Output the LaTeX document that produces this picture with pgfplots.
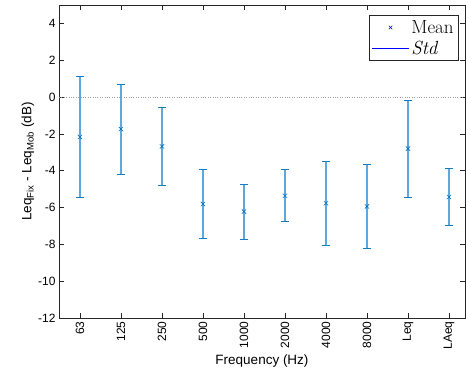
\documentclass[border=0pt]{standalone}
\usepackage{pgfplots}
\pgfplotsset{compat=1.18}
\usepackage{fontspec}
\setmainfont{Liberation Sans}
\newfontfamily\lmfont{Latin Modern Roman}
\definecolor{mblue}{rgb}{0,0.447,0.741}
\definecolor{ebar}{RGB}{95,168,222}
\definecolor{axgray}{RGB}{38,38,38}
\begin{document}
\begin{tikzpicture}
\begin{axis}[
  scale only axis,
  width=406pt, height=313pt,
  at={(0,0)}, anchor=south west,
  xmin=0.49, xmax=10.39,
  ymin=-12, ymax=5,
  xtick={1,...,10},
  xticklabels={63,125,250,500,1000,2000,4000,8000,Leq,LAeq},
  xticklabel style={rotate=90, anchor=east, font=\fontsize{12}{14}\selectfont},
  ytick={-12,-10,...,4},
  yticklabel style={font=\fontsize{12}{14}\selectfont},
  /pgf/number format/assume math mode=true,
  axis line style={axgray, line width=0.5pt},
  tick style={axgray, line width=0.5pt},
  tick align=inside,
  major tick length=5pt,
  xtick pos=both, ytick pos=both,
  xlabel={Frequency (Hz)},
  ylabel={Leq$_{\mbox{\fontsize{9.5}{10}\selectfont Fix}}$ - Leq$_{\mbox{\fontsize{9.5}{10}\selectfont Mob}}$ (dB)},
  label style={font=\fontsize{13.5}{15}\selectfont},
  xlabel style={yshift=2pt},
  ylabel style={yshift=-3pt},
  legend style={at={(0.985,0.968)}, anchor=north east, draw=axgray, line width=0.5pt,
     font=\lmfont\fontsize{19}{21}\selectfont, inner xsep=3pt, inner ysep=3pt, row sep=2pt,
     legend cell align=left},
]
\addplot[domain=0.49:10.39, samples=2, dotted, gray!75, forget plot] {0};
\addplot[draw=none, mark=none, forget plot,
  error bars/.cd, y dir=both, y explicit,
  error bar style={ebar, line width=1.4pt},
  error mark options={mblue!80!ebar, line width=1pt, rotate=90, mark size=4pt}]
coordinates {
 (1,-2.17) +- (0,3.26)
 (2,-1.74) +- (0,2.44)
 (3,-2.68) +- (0,2.12)
 (4,-5.81) +- (0,1.86)
 (5,-6.22) +- (0,1.49)
 (6,-5.36) +- (0,1.41)
 (7,-5.77) +- (0,2.28)
 (8,-5.94) +- (0,2.28)
 (9,-2.80) +- (0,2.63)
 (10,-5.43) +- (0,1.56)
};
\addplot[only marks, mark=x, mark size=3pt, mblue, line width=0.6pt, forget plot]
coordinates {(1,-2.17) (2,-1.74) (3,-2.68) (4,-5.81) (5,-6.22) (6,-5.36) (7,-5.77) (8,-5.94) (9,-2.80) (10,-5.43)};
\addlegendimage{blue, legend image code/.code={\draw[blue, line width=0.6pt] plot[mark=x, mark size=2.5pt] coordinates {(0.65cm,0cm)};}}
\addlegendentry{Mean}
\addlegendimage{blue, legend image code/.code={\draw[blue, line width=0.6pt] (0cm,0cm) -- (1.3cm,0cm);}}
\addlegendentry{\itshape Std}
\end{axis}
\pgfresetboundingbox
\path (-59pt,-60pt) rectangle (407pt,318pt);
\end{tikzpicture}
\end{document}
